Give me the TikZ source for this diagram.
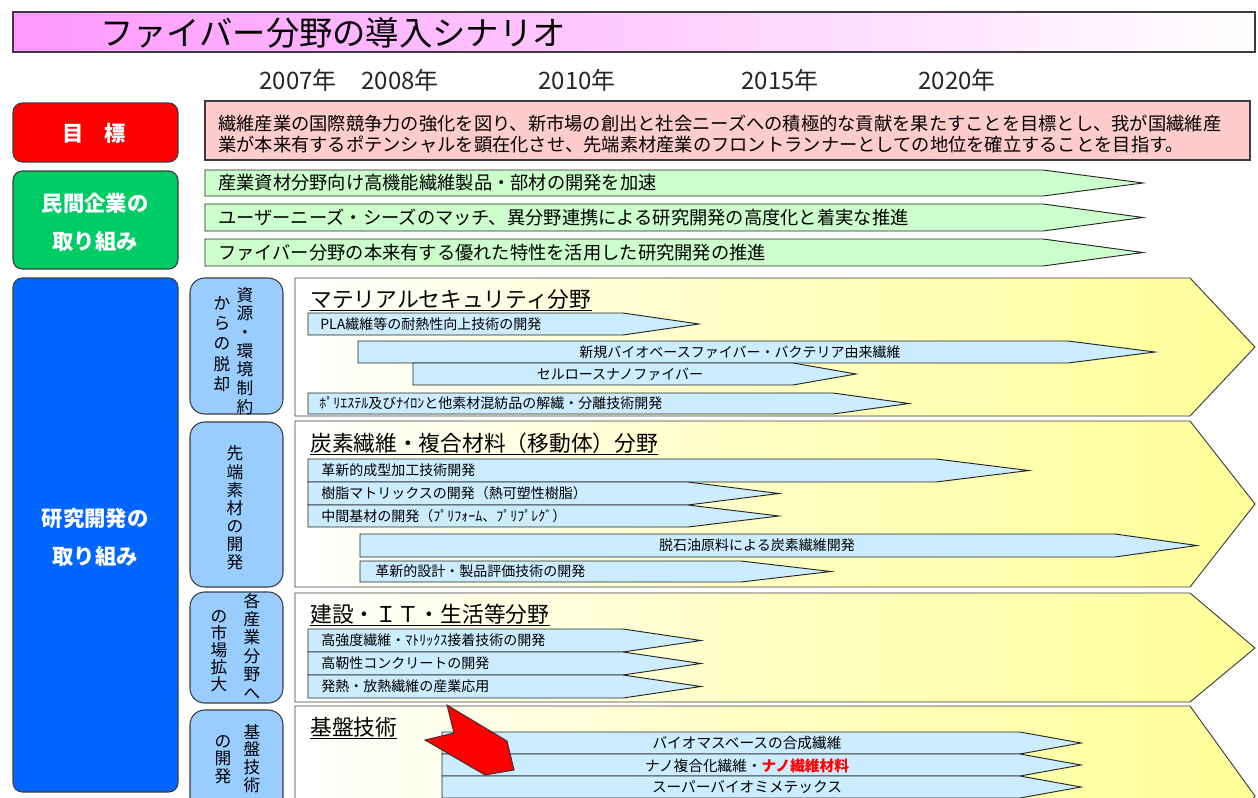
\documentclass[tikz,border=0pt]{standalone}
\usepackage{fontspec}
\setmainfont{Noto Sans CJK JP}
\definecolor{titlepink}{RGB}{255,153,255}
\definecolor{goalpink}{RGB}{255,204,204}
\definecolor{lbred}{RGB}{255,0,0}
\definecolor{lbgreen}{RGB}{0,204,102}
\definecolor{lbblue}{RGB}{0,102,255}
\definecolor{smallblue}{RGB}{153,204,255}
\definecolor{greenfill}{RGB}{204,255,204}
\definecolor{bluefill}{RGB}{204,236,255}
\definecolor{chevY}{RGB}{255,255,153}
\definecolor{edge}{RGB}{60,60,60}
\newcommand\myarw[6]{\draw[arwline,fill=#6] (#1,#2) -- (#3,#2) -- (#4,{(#2+#5)/2}) -- (#3,#5) -- (#1,#5) -- cycle;}
\tikzset{
  arwline/.style={draw=black!85, line width=0.7pt},
  bigbox/.style={draw=edge, line width=0.8pt, rounded corners=7pt},
  smallbox/.style={draw=edge, line width=0.8pt, rounded corners=11pt, fill=smallblue},
  chev/.style={draw=edge, line width=0.7pt, left color=white, right color=chevY, middle color=chevY!60!white},
  whitebold/.style={text=white, font=\fontsize{16}{19}\bfseries\selectfont, inner sep=0pt},
  yeartext/.style={font=\fontsize{18}{21}\selectfont, text=black!85},
  bodytext/.style={font=\fontsize{13.7}{15.75}\selectfont, inner sep=0pt, anchor=west},
  atext/.style={font=\fontsize{10.5}{12}\selectfont, inner sep=0pt},
  sectitle/.style={font=\fontsize{16.3}{19}\selectfont, inner sep=0pt, anchor=base west},
  vtext/.style={align=center, inner sep=0pt}
}
\begin{document}
\begin{tikzpicture}[x=0.75pt,y=-0.75pt]
\useasboundingbox (0,0) rectangle (1258,797);
\clip (0,0) rectangle (1258,797);
\fill[white] (0,0) rectangle (1258,797);

% title
\shade[draw=edge, line width=0.8pt, left color=titlepink, right color=white] (13,12) rectangle (1255,52);
\node[font=\fontsize{25}{30}\selectfont, inner sep=0pt] (title) at (333,33) {ファイバー分野の導入シナリオ};

% years
\node[yeartext] (y2007) at (298,80) {2007年};
\node[yeartext] (y2008) at (400,80) {2008年};
\node[yeartext] (y2010) at (577,80) {2010年};
\node[yeartext] (y2015) at (780,80) {2015年};
\node[yeartext] (y2020) at (957,80) {2020年};

% goal row
\draw[bigbox, fill=lbred] (13,103) rectangle (178,162);
\node[whitebold] (goal) at (94,133) {目　標};
\draw[draw=edge, line width=0.8pt, fill=goalpink] (205,101) rectangle (1250,160);
\node[bodytext, align=left] (goaltext) at (218,134.5) {繊維産業の国際競争力の強化を図り、新市場の創出と社会ニーズへの積極的な貢献を果たすことを目標とし、我が国繊維産\\業が本来有するポテンシャルを顕在化させ、先端素材産業のフロントランナーとしての地位を確立することを目指す。};

% private sector row
\draw[bigbox, fill=lbgreen] (13,171) rectangle (178,269);
\node[whitebold] (priv1) at (95,203) {民間企業の};
\node[whitebold] (priv2) at (95,241) {取り組み};
\myarw{205}{170}{1043}{1143}{196}{greenfill}
\node[bodytext] (g1) at (218,183) {産業資材分野向け高機能繊維製品・部材の開発を加速};
\myarw{205}{204}{1043}{1143}{231}{greenfill}
\node[bodytext] (g2) at (218,217.5) {ユーザーニーズ・シーズのマッチ、異分野連携による研究開発の高度化と着実な推進};
\myarw{205}{239}{1043}{1143}{266}{greenfill}
\node[bodytext] (g3) at (218,252.5) {ファイバー分野の本来有する優れた特性を活用した研究開発の推進};

% R&D row
\draw[bigbox, fill=lbblue] (13,278) rectangle (178,792);
\node[whitebold] (rd1) at (95,518) {研究開発の};
\node[whitebold] (rd2) at (95,556) {取り組み};

% small category boxes
\draw[smallbox] (190,278) rectangle (283,414);
\node[vtext, font=\fontsize{12.5}{14}\selectfont] (c1a) at (245,351) {資\\源\\・\\環\\境\\制\\約};
\node[vtext, font=\fontsize{12.5}{15.3}\selectfont] (c1b) at (222,344) {か\\ら\\の\\脱\\却};
\draw[smallbox] (190,422) rectangle (283,587);
\node[vtext, font=\fontsize{12.5}{13.6}\selectfont] (c2) at (235,508) {先\\端\\素\\材\\の\\開\\発};
\draw[smallbox] (190,592) rectangle (283,703);
\node[vtext, font=\fontsize{12.5}{13.8}\selectfont] (c3a) at (252,646) {各\\産\\業\\分\\野\\へ};
\node[vtext, font=\fontsize{12.5}{12.8}\selectfont] (c3b) at (219,651) {の\\市\\場\\拡\\大};
\draw[smallbox] (190,710) rectangle (283,830);
\node[vtext, font=\fontsize{12.5}{13.3}\selectfont] (c4a) at (252,758.5) {基\\盤\\技\\術};
\node[vtext, font=\fontsize{12.5}{13.1}\selectfont] (c4b) at (223,759.5) {の\\開\\発};

% chevron 1
\shade[chev] (295,278) -- (1190,278) -- (1255,347) -- (1190,416) -- (295,416) -- cycle;
\node[sectitle] (s1) at (310,307) {マテリアルセキュリティ分野};
\draw[line width=0.8pt] ([yshift=-2.5pt]s1.base west) -- ([yshift=-2.5pt]s1.base east);
\myarw{308}{313}{623}{699}{335}{bluefill}
\node[atext, anchor=west] (a11) at (320,324) {PLA繊維等の耐熱性向上技術の開発};
\myarw{358}{341}{1068}{1155}{363}{bluefill}
\node[atext] (a12) at (740,352) {新規バイオベースファイバー・バクテリア由来繊維};
\myarw{413}{363}{793}{856}{385}{bluefill}
\node[atext] (a13) at (620,374) {セルロースナノファイバー};
\myarw{308}{393}{833}{909}{414}{bluefill}
\node[atext, anchor=west] (a14) at (319,403.5) {ﾎﾟﾘｴｽﾃﾙ及びﾅｲﾛﾝと他素材混紡品の解繊・分離技術開発};

% chevron 2
\shade[chev] (295,421) -- (1190,421) -- (1255,504) -- (1190,587) -- (295,587) -- cycle;
\node[sectitle] (s2) at (310,451) {炭素繊維・複合材料（移動体）分野};
\draw[line width=0.8pt] ([yshift=-2.5pt]s2.base west) -- ([yshift=-2.5pt]s2.base east);
\myarw{308}{459}{936}{1029}{482}{bluefill}
\node[atext, anchor=west] (a21) at (321,470.5) {革新的成型加工技術開発};
\myarw{308}{482}{688}{779}{505}{bluefill}
\node[atext, anchor=west] (a22) at (321,493.5) {樹脂マトリックスの開発（熱可塑性樹脂）};
\myarw{308}{505}{688}{779}{527}{bluefill}
\node[atext, anchor=west] (a23) at (321,516) {中間基材の開発（ﾌﾟﾘﾌｫｰﾑ、ﾌﾟﾘﾌﾟﾚｸﾞ）};
\myarw{360}{534}{1115}{1197}{557}{bluefill}
\node[atext] (a24) at (757,545.5) {脱石油原料による炭素繊維開発};
\myarw{360}{561}{741}{831}{582}{bluefill}
\node[atext, anchor=west] (a25) at (375,571.5) {革新的設計・製品評価技術の開発};

% chevron 3
\shade[chev] (295,593) -- (1190,593) -- (1255,648) -- (1190,702) -- (295,702) -- cycle;
\node[sectitle] (s3) at (310,622) {建設・ＩＴ・生活等分野};
\draw[line width=0.8pt] ([yshift=-2.5pt]s3.base west) -- ([yshift=-2.5pt]s3.base east);
\myarw{308}{629}{623}{701}{652}{bluefill}
\node[atext, anchor=west] (a31) at (321,640.5) {高強度繊維・ﾏﾄﾘｯｸｽ接着技術の開発};
\myarw{308}{652}{623}{701}{675}{bluefill}
\node[atext, anchor=west] (a32) at (321,663.5) {高靭性コンクリートの開発};
\myarw{308}{675}{623}{701}{698}{bluefill}
\node[atext, anchor=west] (a33) at (321,686.5) {発熱・放熱繊維の産業応用};

% chevron 4
\shade[chev] (295,706) -- (1190,706) -- (1255,796) -- (1190,886) -- (295,886) -- cycle;
\node[sectitle] (s4) at (310,735) {基盤技術};
\draw[line width=0.8pt] ([yshift=-2.5pt]s4.base west) -- ([yshift=-2.5pt]s4.base east);
\myarw{442}{732}{1020}{1081}{754}{bluefill}
\node[atext, font=\fontsize{11}{12}\selectfont] (a41) at (747,743) {バイオマスベースの合成繊維};
\myarw{442}{754}{1020}{1081}{776}{bluefill}
\node[atext, font=\fontsize{11}{12}\selectfont] (a42) at (747,765.5) {ナノ複合化繊維・\textcolor{lbred}{\bfseries ナノ繊維材料}};
\myarw{442}{776}{1020}{1081}{798}{bluefill}
\node[atext, font=\fontsize{11}{12}\selectfont] (a43) at (747,787.5) {スーパーバイオミメテックス};

% red arrow
\draw[draw=black!80, line width=0.7pt, fill=lbred] (447,705) -- (507,741) -- (514,770) -- (485,775) -- (425,740) -- (454,733) -- cycle;
\end{tikzpicture}
\end{document}
